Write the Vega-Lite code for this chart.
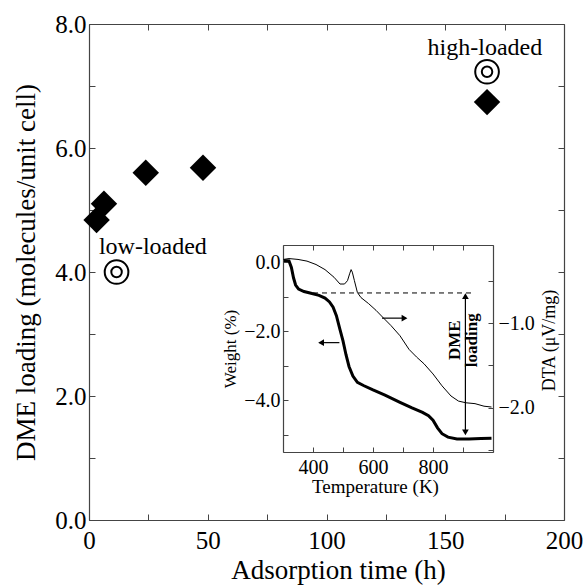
{
  "$schema": "https://vega.github.io/schema/vega-lite/v6.json",
  "width": 475,
  "height": 496,
  "autosize": {"type": "none"},
  "padding": {"left": 89, "top": 24, "right": 21, "bottom": 66},
  "background": "white",
  "config": {
    "view": {"stroke": null},
    "font": "Liberation Serif",
    "axis": {
      "grid": false,
      "labelFont": "Liberation Serif",
      "titleFont": "Liberation Serif",
      "titleFontWeight": "normal",
      "labelColor": "black",
      "titleColor": "black",
      "domainColor": "#444",
      "tickColor": "#444",
      "domainWidth": 1.2,
      "tickWidth": 1,
      "labelOverlap": false,
      "labelFlush": false,
      "labelBound": false
    },
    "text": {"font": "Liberation Serif"}
  },
  "datasets": {
    "main": [
      {"time": 3.2, "loading": 4.84},
      {"time": 6.3, "loading": 5.1},
      {"time": 23.9, "loading": 5.6},
      {"time": 48, "loading": 5.68},
      {"time": 167.6, "loading": 6.74}
    ],
    "special": [
      {"time": 11.6, "loading": 4.0},
      {"time": 167.6, "loading": 7.23}
    ],
    "labels": [
      {"time": 26.9, "loading": 4.29, "label": "low-loaded"},
      {"time": 166.7, "loading": 7.5, "label": "high-loaded"}
    ],
    "weight": [
      {"T": 303, "W": 0.05}, {"T": 320, "W": 0.04}, {"T": 328, "W": -0.15}, {"T": 335, "W": -0.45},
      {"T": 342, "W": -0.66}, {"T": 352, "W": -0.78}, {"T": 370, "W": -0.85}, {"T": 390, "W": -0.89},
      {"T": 420, "W": -0.96}, {"T": 440, "W": -1.04}, {"T": 455, "W": -1.15}, {"T": 467, "W": -1.3},
      {"T": 478, "W": -1.55}, {"T": 490, "W": -1.95}, {"T": 500, "W": -2.28}, {"T": 510, "W": -2.68},
      {"T": 520, "W": -3.02}, {"T": 533, "W": -3.3}, {"T": 548, "W": -3.48}, {"T": 570, "W": -3.58},
      {"T": 600, "W": -3.7}, {"T": 640, "W": -3.85}, {"T": 690, "W": -4.06}, {"T": 730, "W": -4.22},
      {"T": 765, "W": -4.35}, {"T": 785, "W": -4.45}, {"T": 800, "W": -4.58}, {"T": 815, "W": -4.8},
      {"T": 830, "W": -4.97}, {"T": 850, "W": -5.07}, {"T": 880, "W": -5.12}, {"T": 920, "W": -5.12},
      {"T": 960, "W": -5.11}, {"T": 995, "W": -5.1}
    ],
    "dta": [
      {"T": 301, "D": -0.25}, {"T": 320, "D": -0.24}, {"T": 350, "D": -0.25}, {"T": 380, "D": -0.27},
      {"T": 410, "D": -0.31}, {"T": 440, "D": -0.37}, {"T": 470, "D": -0.46}, {"T": 490, "D": -0.54},
      {"T": 505, "D": -0.54}, {"T": 515, "D": -0.5}, {"T": 522, "D": -0.42}, {"T": 527, "D": -0.37},
      {"T": 531, "D": -0.4}, {"T": 538, "D": -0.5}, {"T": 548, "D": -0.64}, {"T": 560, "D": -0.7},
      {"T": 585, "D": -0.77}, {"T": 610, "D": -0.85}, {"T": 632, "D": -0.93}, {"T": 660, "D": -1.03},
      {"T": 690, "D": -1.15}, {"T": 720, "D": -1.31}, {"T": 745, "D": -1.4}, {"T": 770, "D": -1.48},
      {"T": 800, "D": -1.6}, {"T": 830, "D": -1.74}, {"T": 860, "D": -1.86}, {"T": 885, "D": -1.92},
      {"T": 910, "D": -1.94}, {"T": 940, "D": -1.95}, {"T": 970, "D": -1.98}, {"T": 995, "D": -1.99}
    ],
    "dashed": [{"T": 400, "T2": 940, "W": -0.89}],
    "arrows": [
      {"T": 908, "T2": 908, "W": -0.95, "W2": -4.95},
      {"T": 422, "T2": 488, "W": -2.33, "W2": -2.33},
      {"T": 630, "T2": 710, "W": -1.62, "W2": -1.62}
    ],
    "heads": [
      {"T": 908, "W": -0.98, "shape": "triangle-up"},
      {"T": 908, "W": -4.93, "shape": "triangle-down"},
      {"T": 427, "W": -2.33, "shape": "triangle-left"},
      {"T": 705, "W": -1.62, "shape": "triangle-right"}
    ],
    "note": [{"T": 872, "W": -2.26, "label": "DME\nloading"}]
  },
  "layer": [
    {
      "data": {"name": "main"},
      "mark": {"type": "point", "shape": "diamond", "filled": true, "color": "black", "opacity": 1, "size": 700},
      "encoding": {
        "x": {
          "field": "time", "type": "quantitative",
          "scale": {"domain": [0, 200], "nice": false, "zero": false},
          "axis": {
            "orient": "bottom", "values": [0, 25, 50, 75, 100, 125, 150, 175, 200],
            "labelExpr": "datum.value % 50 == 0 ? datum.label : ''", "format": "d",
            "tickSize": -6, "labelPadding": 14, "labelFontSize": 25,
            "title": "Adsorption time (h)", "titleFontSize": 27, "titlePadding": 4, "titleX": 249
          }
        },
        "y": {
          "field": "loading", "type": "quantitative",
          "scale": {"domain": [0, 8], "nice": false, "zero": false},
          "axis": {
            "orient": "left", "values": [0, 1, 2, 3, 4, 5, 6, 7, 8],
            "labelExpr": "datum.value % 2 == 0 ? datum.label : ''", "format": ".1f",
            "tickSize": -6, "labelPadding": 9, "labelFontSize": 25,
            "title": "DME loading (molecules/unit cell)", "titleFontSize": 27, "titlePadding": 14
          }
        }
      }
    },
    {
      "data": {"name": "special"},
      "mark": {"type": "point", "shape": "circle", "filled": false, "color": "black", "strokeWidth": 2, "opacity": 1, "size": 560},
      "encoding": {
        "x": {
          "field": "time", "type": "quantitative",
          "scale": {"domain": [0, 200], "nice": false, "zero": false},
          "axis": {"orient": "top", "values": [0, 25, 50, 75, 100, 125, 150, 175, 200], "labels": false, "tickSize": -6, "title": null}
        },
        "y": {
          "field": "loading", "type": "quantitative",
          "scale": {"domain": [0, 8], "nice": false, "zero": false},
          "axis": {"orient": "right", "values": [0, 1, 2, 3, 4, 5, 6, 7, 8], "labels": false, "tickSize": -6, "title": null}
        }
      }
    },
    {
      "data": {"name": "special"},
      "mark": {"type": "point", "shape": "circle", "filled": false, "color": "black", "strokeWidth": 2, "opacity": 1, "size": 110},
      "encoding": {
        "x": {"field": "time", "type": "quantitative", "scale": {"domain": [0, 200], "nice": false, "zero": false}, "axis": null},
        "y": {"field": "loading", "type": "quantitative", "scale": {"domain": [0, 8], "nice": false, "zero": false}, "axis": null}
      }
    },
    {
      "data": {"name": "labels"},
      "mark": {"type": "text", "fontSize": 24, "align": "center", "baseline": "alphabetic", "color": "black"},
      "encoding": {
        "x": {"field": "time", "type": "quantitative", "scale": {"domain": [0, 200], "nice": false, "zero": false}, "axis": null},
        "y": {"field": "loading", "type": "quantitative", "scale": {"domain": [0, 8], "nice": false, "zero": false}, "axis": null},
        "text": {"field": "label"}
      }
    },
    {
      "data": {"name": "weight"},
      "mark": {"type": "line", "color": "black", "strokeWidth": 3},
      "encoding": {
        "x": {
          "field": "T", "type": "quantitative",
          "scale": {"domain": [300, 1000], "range": [194, 404], "nice": false, "zero": false},
          "axis": {
            "orient": "bottom", "offset": -68, "values": [300, 400, 500, 600, 700, 800, 900, 1000],
            "labelExpr": "(datum.value == 400 || datum.value == 600 || datum.value == 800) ? datum.label : ''", "format": "d",
            "tickSize": -5, "labelPadding": 10, "labelFontSize": 20,
            "title": "Temperature (K)", "titleFontSize": 19, "titlePadding": 0, "titleX": 286
          }
        },
        "y": {
          "field": "W", "type": "quantitative",
          "scale": {"domain": [-5.5, 0.5], "range": [428, 221], "nice": false, "zero": false},
          "axis": {
            "orient": "left", "offset": -194, "values": [-5, -4, -3, -2, -1, 0],
            "labelExpr": "datum.value % 2 == 0 ? datum.label : ''", "format": ".1f",
            "tickSize": -5, "labelPadding": 8, "labelFontSize": 20,
            "title": "Weight (%)", "titleFontSize": 17, "titlePadding": 4
          }
        }
      }
    },
    {
      "data": {"name": "dta"},
      "mark": {"type": "line", "color": "black", "strokeWidth": 1},
      "encoding": {
        "x": {
          "field": "T", "type": "quantitative",
          "scale": {"domain": [300, 1000], "range": [194, 404], "nice": false, "zero": false},
          "axis": {"orient": "top", "offset": -221, "values": [300, 400, 500, 600, 700, 800, 900, 1000], "labels": false, "tickSize": -5, "title": null}
        },
        "y": {
          "field": "D", "type": "quantitative",
          "scale": {"domain": [-2.52, -0.08], "range": [428, 221], "nice": false, "zero": false},
          "axis": {
            "orient": "right", "offset": -71, "values": [-2.5, -2, -1.5, -1, -0.5],
            "labelExpr": "datum.value % 1 == 0 ? datum.label : ''", "format": ".1f",
            "tickSize": -5, "labelPadding": 10, "labelFontSize": 20,
            "title": "DTA (μV/mg)", "titleFontSize": 18, "titlePadding": 6,
            "titleAngle": 270, "titleBaseline": "top", "titleY": 316
          }
        }
      }
    },
    {
      "data": {"name": "dashed"},
      "mark": {"type": "rule", "color": "black", "strokeWidth": 1, "strokeDash": [5, 4]},
      "encoding": {
        "x": {"field": "T", "type": "quantitative", "scale": {"domain": [300, 1000], "range": [194, 404], "nice": false, "zero": false}, "axis": null},
        "x2": {"field": "T2"},
        "y": {"field": "W", "type": "quantitative", "scale": {"domain": [-5.5, 0.5], "range": [428, 221], "nice": false, "zero": false}, "axis": null}
      }
    },
    {
      "data": {"name": "arrows"},
      "mark": {"type": "rule", "color": "black", "strokeWidth": 1.2},
      "encoding": {
        "x": {"field": "T", "type": "quantitative", "scale": {"domain": [300, 1000], "range": [194, 404], "nice": false, "zero": false}, "axis": null},
        "x2": {"field": "T2"},
        "y": {"field": "W", "type": "quantitative", "scale": {"domain": [-5.5, 0.5], "range": [428, 221], "nice": false, "zero": false}, "axis": null},
        "y2": {"field": "W2"}
      }
    },
    {
      "data": {"name": "heads"},
      "mark": {"type": "point", "filled": true, "color": "black", "opacity": 1, "size": 45},
      "encoding": {
        "x": {"field": "T", "type": "quantitative", "scale": {"domain": [300, 1000], "range": [194, 404], "nice": false, "zero": false}, "axis": null},
        "y": {"field": "W", "type": "quantitative", "scale": {"domain": [-5.5, 0.5], "range": [428, 221], "nice": false, "zero": false}, "axis": null},
        "shape": {"field": "shape", "type": "nominal", "scale": null, "legend": null}
      }
    },
    {
      "data": {"name": "note"},
      "mark": {"type": "text", "fontSize": 17, "fontWeight": "bold", "angle": 270, "align": "center", "baseline": "middle", "lineBreak": "\n", "lineHeight": 17, "color": "black"},
      "encoding": {
        "x": {"field": "T", "type": "quantitative", "scale": {"domain": [300, 1000], "range": [194, 404], "nice": false, "zero": false}, "axis": null},
        "y": {"field": "W", "type": "quantitative", "scale": {"domain": [-5.5, 0.5], "range": [428, 221], "nice": false, "zero": false}, "axis": null},
        "text": {"field": "label"}
      }
    }
  ],
  "resolve": {
    "scale": {"x": "independent", "y": "independent", "shape": "independent"},
    "axis": {"x": "independent", "y": "independent"}
  }
}
